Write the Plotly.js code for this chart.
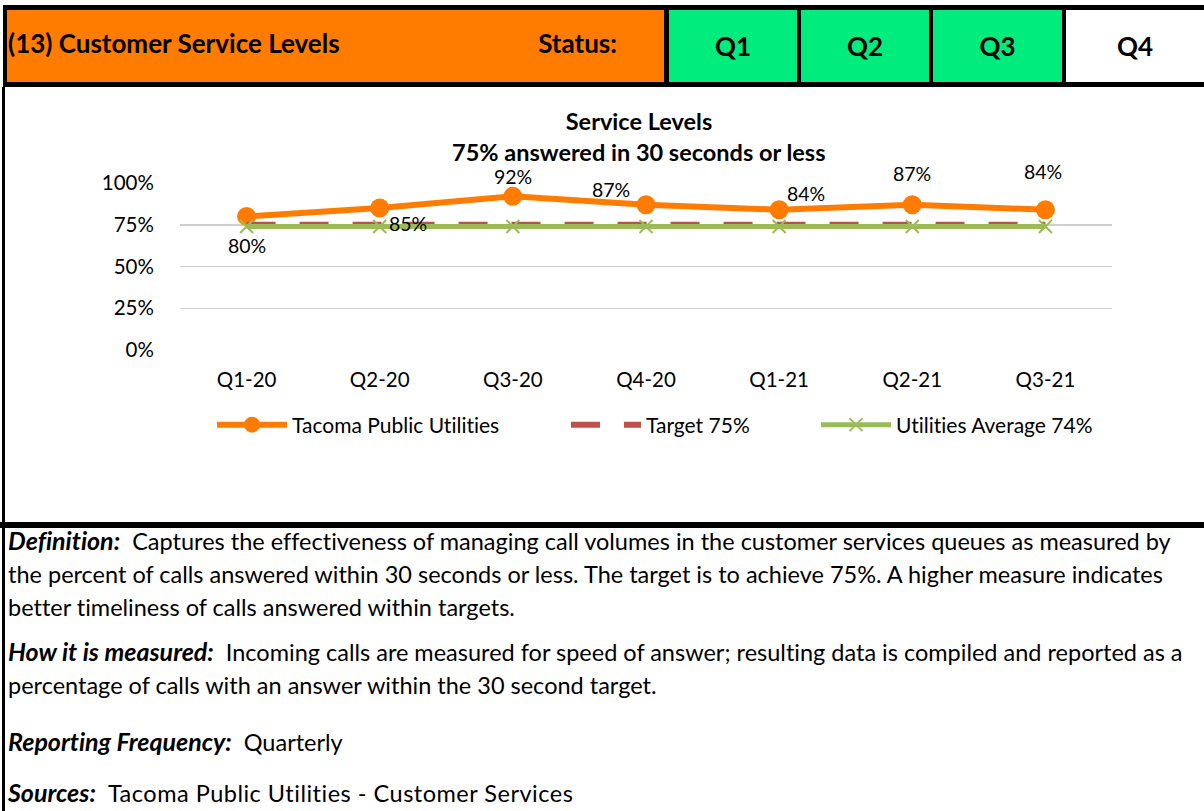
<!DOCTYPE html>
<html>
<head>
<meta charset="utf-8">
<script src="https://cdn.plot.ly/plotly-3.0.1.min.js"></script>
<style>
  html, body { margin:0; padding:0; background:#fff; }
  body { width:1204px; height:811px; position:relative; overflow:hidden; font-family: Lato, "Open Sans", sans-serif; color:#000; font-variant-ligatures:none; font-feature-settings:"liga" 0, "clig" 0; }
  svg text { font-variant-ligatures:none; font-feature-settings:"liga" 0, "clig" 0; }
  .blk { position:absolute; background:#000; }
  .cell { position:absolute; top:10px; height:72px; display:flex; align-items:center; font-weight:bold; font-size:26px; }
  .para { position:absolute; left:8px; font-size:23.5px; line-height:33px; white-space:nowrap; }
  .para b { font-style:italic; font-size:25px; }
  #chart { position:absolute; left:0; top:87px; width:1204px; height:435px; }
</style>
</head>
<body>
<!-- header borders -->
<div class="blk" style="left:3px; top:5px; width:1201px; height:5px;"></div>
<div class="blk" style="left:3px; top:82px; width:1201px; height:5px;"></div>
<div class="blk" style="left:3px; top:5px; width:4px; height:82px;"></div>
<div class="cell" style="left:7px; width:657px; background:#FF7C00;">
  <span style="position:absolute; left:1px; top:17px;">(13) Customer Service Levels</span>
  <span style="position:absolute; right:47px; top:17px;">Status:</span>
</div>
<div class="blk" style="left:664px; top:10px; width:5px; height:72px;"></div>
<div class="cell" style="left:669px; width:128px; background:#00EC7C; justify-content:center;">Q1</div>
<div class="blk" style="left:797px; top:10px; width:4px; height:72px;"></div>
<div class="cell" style="left:801px; width:128px; background:#00EC7C; justify-content:center;">Q2</div>
<div class="blk" style="left:929px; top:10px; width:4px; height:72px;"></div>
<div class="cell" style="left:933px; width:129px; background:#00EC7C; justify-content:center;">Q3</div>
<div class="blk" style="left:1062px; top:10px; width:4px; height:72px;"></div>
<div class="cell" style="left:1066px; width:138px; background:#fff; justify-content:center;">Q4</div>

<div id="chart"></div>

<!-- chart bottom border and left border -->
<div class="blk" style="left:0px; top:522px; width:1204px; height:6px;"></div>
<div class="blk" style="left:2px; top:87px; width:3px; height:724px;"></div>

<div class="para" style="top:524px;"><b>Definition:</b>&nbsp; Captures the effectiveness of managing call volumes in the customer services queues as measured by<br>the percent of calls answered within 30 seconds or less. The target is to achieve 75%. A higher measure indicates<br>better timeliness of calls answered within targets.</div>
<div class="para" style="top:635px;"><b>How it is measured:</b>&nbsp; Incoming calls are measured for speed of answer; resulting data is compiled and reported as a<br>percentage of calls with an answer within the 30 second target.</div>
<div class="para" style="top:725px;"><b>Reporting Frequency:</b>&nbsp; Quarterly</div>
<div class="para" style="top:776px;"><b>Sources:</b>&nbsp; <span style="letter-spacing:0.5px">Tacoma Public Utilities - Customer Services</span></div>

<script>
// ---- data ----
const quarters = ["Q1-20", "Q2-20", "Q3-20", "Q4-20", "Q1-21", "Q2-21", "Q3-21"];
const tacoma = [0.80, 0.85, 0.92, 0.87, 0.84, 0.87, 0.84];
const target = [0.75, 0.75, 0.75, 0.75, 0.75, 0.75, 0.75];
const utilAvg = [0.74, 0.74, 0.74, 0.74, 0.74, 0.74, 0.74];
const yTicks = [0, 0.25, 0.5, 0.75, 1.0];
const yTickLabels = ["0%", "25%", "50%", "75%", "100%"];

// label placement offsets (px)
const labelDx = [0, 28, 0, -35, 27, 0, -2];
const labelDy = [-29, -15, 20, 15, 16, 31, 38];

const FONT = "Lato, 'Open Sans', sans-serif";

const traces = [
  {
    x: quarters, y: tacoma, name: "Tacoma Public Utilities", type: "scatter", mode: "lines+markers",
    line: {color: "#FF7C00", width: 6}, marker: {color: "#FF7C00", size: 19}, cliponaxis: false,
    legend: "legend"
  },
  {
    x: quarters, y: target, name: "Target 75%", type: "scatter", mode: "lines",
    line: {color: "#C0504D", width: 6, dash: "29px,24px"}, legend: "legend2"
  },
  {
    x: quarters, y: utilAvg, name: "Utilities Average 74%", type: "scatter", mode: "lines+markers",
    line: {color: "#9BBB59", width: 5},
    marker: {symbol: "x-thin", size: 13, line: {color: "#9BBB59", width: 2}, color: "#9BBB59"},
    cliponaxis: false, legend: "legend3"
  }
];

const annotations = quarters.map((q, i) => ({
  x: q, y: tacoma[i], xref: "x", yref: "y",
  text: Math.round(tacoma[i] * 100) + "%",
  showarrow: false, xshift: labelDx[i], yshift: labelDy[i],
  font: {family: FONT, size: 19.5, color: "#000"}
}));
annotations.push({
  xref: "paper", yref: "paper", x: 0.4925, y: (350 - 152) / 167, yanchor: "middle",
  text: "<b>75% answered in 30 seconds or less</b>", showarrow: false,
  font: {family: FONT, size: 23.5, color: "#000"}
});

const legendBase = {
  orientation: "h", xref: "paper", yref: "paper", y: (350 - 425) / 167,
  xanchor: "left", yanchor: "middle", itemwidth: 70,
  font: {family: FONT, size: 21, color: "#000"}, bgcolor: "rgba(0,0,0,0)"
};

const layout = {
  width: 1204, height: 435,
  margin: {l: 180, r: 92, t: 96, b: 172, pad: 0},
  paper_bgcolor: "rgba(0,0,0,0)", plot_bgcolor: "rgba(0,0,0,0)",
  font: {family: FONT, size: 20, color: "#000"},
  title: {
    text: "<b>Service Levels</b>", xref: "paper", x: 0.4925, xanchor: "center",
    yref: "container", y: 1 - (122 - 87) / 435, yanchor: "middle",
    font: {family: FONT, size: 23.5, color: "#000"}
  },
  xaxis: {
    type: "category", range: [-0.5, 6.5], showgrid: false, zeroline: false,
    showline: false, ticks: "outside", ticklen: 11, tickcolor: "rgba(0,0,0,0)",
    tickfont: {family: FONT, size: 20.5, color: "#000"}, fixedrange: true
  },
  yaxis: {
    range: [0, 1], tickvals: yTicks, ticktext: yTickLabels,
    showgrid: true, gridcolor: "#D0D0D0", gridwidth: 1.5, zeroline: false,
    showline: false, ticks: "outside", ticklen: 21, tickcolor: "rgba(0,0,0,0)",
    tickfont: {family: FONT, size: 20.5, color: "#000"}, fixedrange: true
  },
  showlegend: true,
  legend: Object.assign({}, legendBase, {x: (212 - 180) / 932}),
  legend2: Object.assign({}, legendBase, {x: (566 - 180) / 932}),
  legend3: Object.assign({}, legendBase, {x: (816 - 180) / 932}),
  annotations: annotations
};

Plotly.newPlot("chart", traces, layout, {displayModeBar: false, staticPlot: true});
</script>
</body>
</html>
